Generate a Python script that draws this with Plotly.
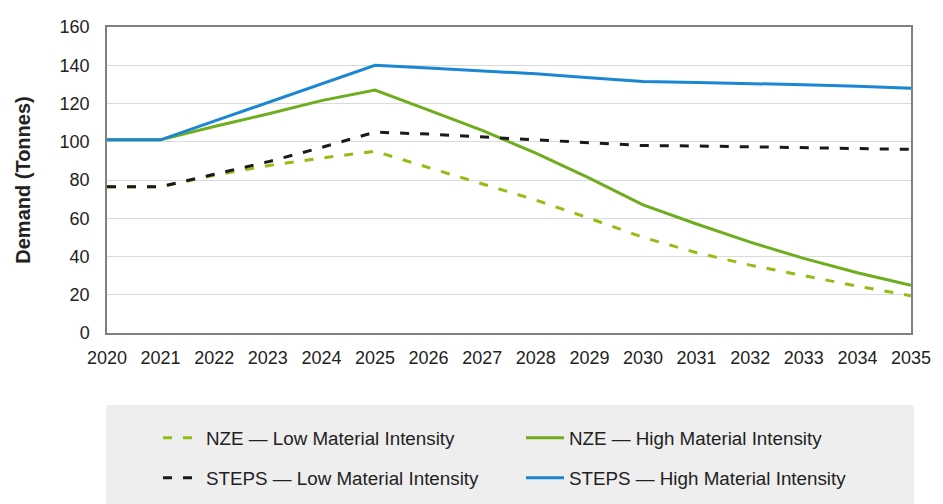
import plotly.graph_objects as go

# Annual demand outlook, 2020-2035 (tonnes)
years = list(range(2020, 2036))
nze_low = [76.5, 76.5, 82.5, 87.5, 91.5, 95, 86.5, 78, 69.5, 60, 50, 42, 35.5, 30, 24.5, 19.5]
nze_high = [101, 101, 108, 114.5, 121.5, 127, 116.5, 106, 94, 81, 67, 57, 47.5, 39, 31.5, 25]
steps_low = [76.5, 76.5, 83, 89.5, 97, 105, 104, 102.5, 101, 99.5, 98, 97.8, 97.4, 97, 96.5, 96]
steps_high = [101, 101, 110.75, 120.5, 130.25, 140, 138.5, 137, 135.5, 133.5, 131.5, 131, 130.5, 129.8, 129, 128]

series_names = [
    "NZE \u2014 Low Material Intensity",
    "NZE \u2014 High Material Intensity",
    "STEPS \u2014 Low Material Intensity",
    "STEPS \u2014 High Material Intensity",
]

GREEN_DASH = "#92BE14"
GREEN = "#6EAD1E"
BLACK = "#1A1A1A"
BLUE = "#1B87D2"
FONT = "Liberation Sans, Arial, sans-serif"

fig = go.Figure()
fig.add_trace(go.Scatter(x=years, y=nze_low, name=series_names[0], mode="lines",
                         line=dict(color=GREEN_DASH, width=3, dash="9px,11px"),
                         legend="legend"))
fig.add_trace(go.Scatter(x=years, y=nze_high, name=series_names[1], mode="lines",
                         line=dict(color=GREEN, width=3), legend="legend"))
fig.add_trace(go.Scatter(x=years, y=steps_low, name=series_names[2], mode="lines",
                         line=dict(color=BLACK, width=3, dash="9px,11px"),
                         legend="legend2"))
fig.add_trace(go.Scatter(x=years, y=steps_high, name=series_names[3], mode="lines",
                         line=dict(color=BLUE, width=3), legend="legend2"))

legend_common = dict(
    orientation="h",
    xref="container",
    yref="container",
    xanchor="left",
    yanchor="middle",
    bgcolor="rgba(0,0,0,0)",
    font=dict(family=FONT, size=18.8, color="#222222"),
    itemwidth=38,
    entrywidth=310,
    entrywidthmode="pixels",
    itemclick=False,
    itemdoubleclick=False,
)

fig.update_layout(
    width=943,
    height=504,
    margin=dict(l=107, r=26, t=27, b=171),
    paper_bgcolor="white",
    plot_bgcolor="white",
    font=dict(family=FONT, size=18, color="#222222"),
    showlegend=True,
    legend=dict(x=158 / 943, y=1 - 438 / 504, **legend_common),
    legend2=dict(x=158 / 943, y=1 - 478 / 504, **legend_common),
    shapes=[
        dict(type="rect", xref="paper", yref="paper",
             x0=-0.001, x1=1.0037, y0=-0.235, y1=-0.6,
             fillcolor="#EEEEEE", line=dict(width=0), layer="below"),
    ],
)

fig.update_xaxes(
    range=[2020, 2035],
    tickmode="linear", tick0=2020, dtick=1,
    showgrid=False,
    showline=True, linecolor="#7F7F7F", linewidth=1.5, mirror=True,
    ticks="", ticklabelstandoff=8,
    tickfont=dict(family=FONT, size=18, color="#222222"),
    zeroline=False,
)
fig.update_yaxes(
    range=[0, 160],
    tickmode="linear", tick0=0, dtick=20,
    showgrid=True, gridcolor="#DADADA", gridwidth=1,
    showline=True, linecolor="#7F7F7F", linewidth=1.5, mirror=True,
    ticks="", ticklabelstandoff=12,
    tickfont=dict(family=FONT, size=18, color="#222222"),
    zeroline=False,
    title=dict(text="<b>Demand (Tonnes)</b>", standoff=24,
               font=dict(family=FONT, size=20, color="#222222")),
)

fig.write_html("out.html")
